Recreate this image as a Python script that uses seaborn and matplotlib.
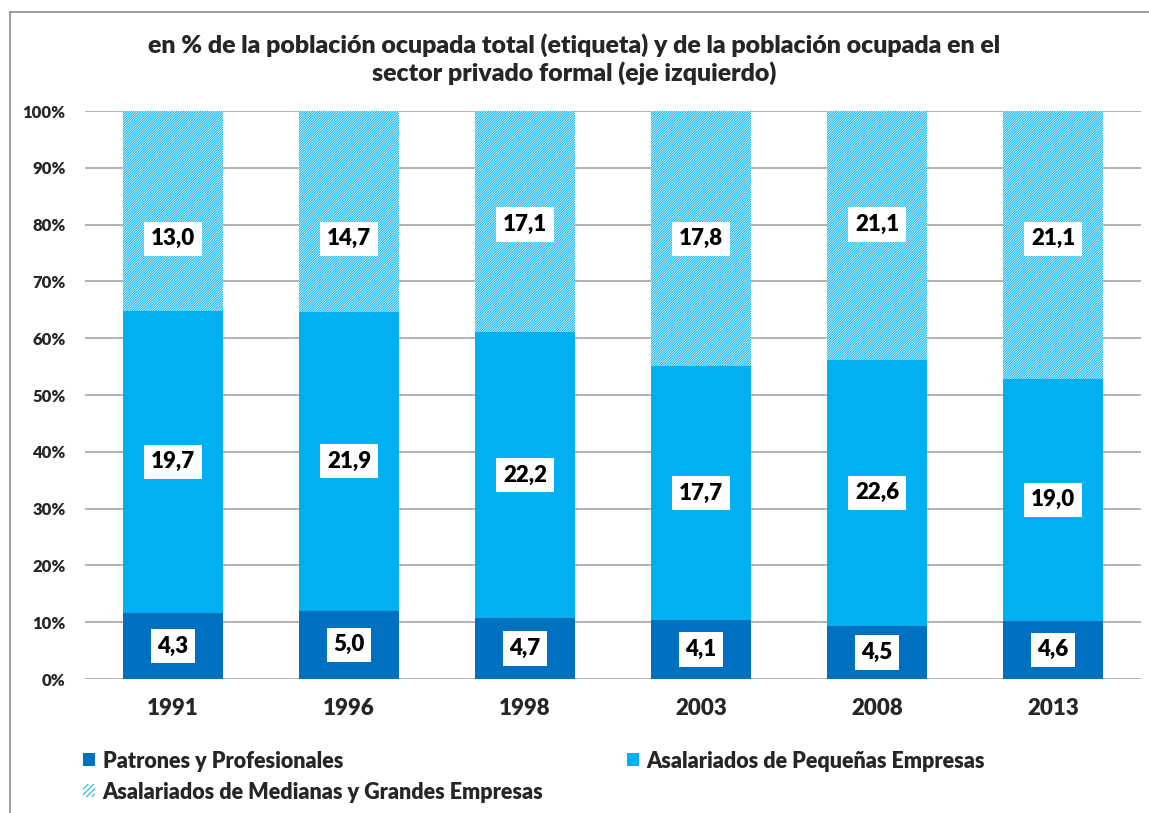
import matplotlib
matplotlib.use("Agg")
import matplotlib.pyplot as plt
from matplotlib.lines import Line2D
from matplotlib.patches import Patch
import numpy as np
import pandas as pd
import seaborn as sns

# datos (etiquetas = % de la población ocupada total)
years = ["1991", "1996", "1998", "2003", "2008", "2013"]
patrones = [4.3, 5.0, 4.7, 4.1, 4.5, 4.6]
pequenas = [19.7, 21.9, 22.2, 17.7, 22.6, 19.0]
medianas = [13.0, 14.7, 17.1, 17.8, 21.1, 21.1]

series_names = [
    "Patrones y Profesionales",
    "Asalariados de Pequeñas Empresas",
    "Asalariados de Medianas y Grandes Empresas",
]
title = ("en % de la población ocupada total (etiqueta) y de la población ocupada en el\n"
         "sector privado formal (eje izquierdo)")

# posición vertical (fracción) de las etiquetas superiores, movidas a mano en el original
top_label_y = [0.775, 0.775, 0.80, 0.775, 0.80, 0.775]

C_DARK = "#0070C0"
C_LIGHT = "#00B0F0"
HATCH = "/" * 14
W = "heavy"

df = pd.DataFrame({"year": years, "p": patrones, "s": pequenas, "m": medianas})
total = df["p"] + df["s"] + df["m"]
df["c1"] = df["p"] / total
df["c2"] = (df["p"] + df["s"]) / total
df["c3"] = 1.0

sns.set_theme(style="white")
plt.rcParams["font.family"] = ["Lato", "DejaVu Sans"]
plt.rcParams["font.weight"] = W
plt.rcParams["hatch.linewidth"] = 0.7

fig = plt.figure(figsize=(11.49, 8.13), dpi=100)
ax = fig.add_axes([85 / 1149, 1 - 679 / 813, (1141 - 85) / 1149, (679 - 111) / 813])

width = 0.57
sns.barplot(data=df, x="year", y="c3", order=years, color="white", saturation=1,
            width=width, edgecolor=C_LIGHT, linewidth=0, hatch=HATCH, ax=ax, zorder=2)
sns.barplot(data=df, x="year", y="c2", order=years, color=C_LIGHT, saturation=1,
            width=width, linewidth=0, ax=ax, zorder=3)
sns.barplot(data=df, x="year", y="c1", order=years, color=C_DARK, saturation=1,
            width=width, linewidth=0, ax=ax, zorder=4)

ax.set_ylim(0, 1)
ax.set_xlim(-0.5, len(years) - 0.5)
ticks = np.arange(0, 1.01, 0.1)
ax.set_yticks(ticks)
ax.set_yticklabels([f"{int(round(t * 100))}%" for t in ticks], fontsize=12, fontweight=W)
ax.set_xticks(range(len(years)))
ax.set_xticklabels(years, fontsize=16, fontweight=W)
ax.tick_params(axis="x", pad=14, length=0)
ax.tick_params(axis="y", pad=14, length=0)
ax.set_xlabel("")
ax.set_ylabel("")
ax.grid(axis="y", color="#A6A6A6", linewidth=1.2, zorder=0)
ax.set_axisbelow(True)
for sp in ax.spines.values():
    sp.set_visible(False)

box = dict(boxstyle="square,pad=0.3", fc="white", ec="none")
fmt = lambda v: f"{v:.1f}".replace(".", ",")
for i in range(len(years)):
    c1, c2 = df["c1"][i], df["c2"][i]
    ax.text(i, c1 / 2, fmt(patrones[i]), ha="center", va="center", fontsize=16,
            fontweight=W, color="black", bbox=box, zorder=6)
    ax.text(i, (c1 + c2) / 2, fmt(pequenas[i]), ha="center", va="center", fontsize=16,
            fontweight=W, color="black", bbox=box, zorder=6)
    ax.text(i, top_label_y[i], fmt(medianas[i]), ha="center", va="center", fontsize=16,
            fontweight=W, color="black", bbox=box, zorder=6)

fig.text(0.5, 1 - 59 / 813, title, ha="center", va="center", fontsize=17.9,
         fontweight=W, linespacing=1.22)

handles = [
    Patch(facecolor=C_DARK, edgecolor="none"),
    Patch(facecolor=C_LIGHT, edgecolor="none"),
    Patch(facecolor="white", edgecolor=C_LIGHT, linewidth=0, hatch="/" * 6),
]
leg_kw = dict(loc="center left", frameon=False, handlelength=0.55, handleheight=0.55,
              handletextpad=0.35, prop={"weight": W, "size": 15.5})
fig.legend(handles[:2], series_names[:2], ncol=2, columnspacing=13.2,
           bbox_to_anchor=(64 / 1149, 1 - 761 / 813), **leg_kw)
fig.legend(handles[2:], series_names[2:],
           bbox_to_anchor=(64 / 1149, 1 - 792 / 813), **leg_kw)

# marco del gráfico
fig.add_artist(Line2D([10 / 1149, 10 / 1149], [0, 1 - 12 / 813], transform=fig.transFigure,
                      color="#8C8C8C", linewidth=1.2))
fig.add_artist(Line2D([10 / 1149, 1], [1 - 12 / 813, 1 - 12 / 813], transform=fig.transFigure,
                      color="#8C8C8C", linewidth=1.2))

fig.savefig("out.png", dpi=100, facecolor="white")
plt.close(fig)
